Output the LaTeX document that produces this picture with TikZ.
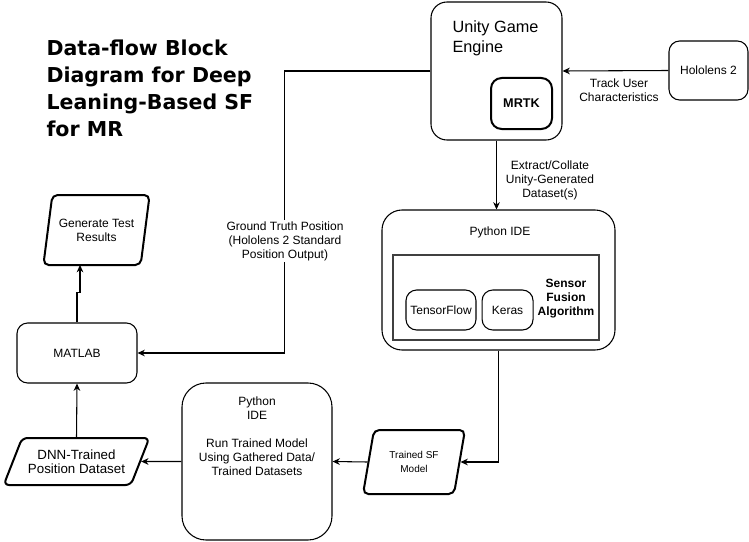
\documentclass[tikz,border=0pt]{standalone}
\usepackage{fontspec}
\setmainfont{Liberation Sans}
\newfontfamily\titlefont{DejaVu Sans}
\usepackage{tikz}
\usetikzlibrary{arrows.meta, shapes.geometric, positioning}

\begin{document}
\begin{tikzpicture}[x=0.75pt, y=-0.75pt, line width=0.8pt, >={Stealth[length=5.5pt, width=5pt, inset=1.8pt]},
    block/.style={rectangle, rounded corners=8pt, draw, align=center, inner sep=2pt, font=\fontsize{9}{10.5}\selectfont},
    data/.style={trapezium, trapezium stretches=true, rounded corners=4pt, draw, line width=1.5pt, align=center, inner sep=1pt, font=\fontsize{9}{10.5}\selectfont},
    lbl/.style={align=center, inner sep=1pt, font=\fontsize{9}{10.5}\selectfont}]

    \useasboundingbox (0,0) rectangle (749,542);

    % title
    \node[anchor=north west, align=left, inner sep=0pt, font=\titlefont\fontsize{15.4}{20.25}\selectfont\bfseries] (title) at (46,39) {Data-flow Block\\Diagram for Deep\\Leaning-Based SF\\for MR};

    % top right
    \node[block, rounded corners=12pt, minimum width=98.25pt, minimum height=103.5pt] (unity) at (496.5,71) {};
    \node[anchor=north west, align=left, inner sep=0pt, font=\fontsize{12.2}{15}\selectfont] (unitytxt) at (452,20) {Unity Game\\Engine};
    \node[block, line width=1.5pt, minimum width=45.75pt, minimum height=38.25pt, font=\fontsize{9.5}{11}\selectfont\bfseries] (mrtk) at (521.5,103.5) {MRTK};
    \node[block, minimum width=59.25pt, minimum height=44.25pt] (holo) at (708.5,70.5) {Hololens 2};

    % python / sensor fusion
    \node[block, rounded corners=15pt, minimum width=174.75pt, minimum height=105pt] (pyide) at (498.5,280) {};
    \node[lbl] (pyidetxt) at (500,232) {Python IDE};
    \node[rectangle, draw=black!75, line width=1.1pt, minimum width=154.5pt, minimum height=63.75pt] (sfa) at (496,297.5) {};
    \node[block, minimum width=52.5pt, minimum height=30pt] (tf) at (441,310) {TensorFlow};
    \node[block, right=3.75pt of tf, minimum width=38.25pt, minimum height=30pt] (keras) {Keras};
    \node[lbl, font=\fontsize{9}{10.5}\selectfont\bfseries] (sfatxt) at (566,299) {Sensor\\Fusion\\Algorithm};

    % bottom row
    \node[data, trapezium left angle=73.5, trapezium right angle=106.5, minimum width=76.5pt, minimum height=48pt, font=\fontsize{7.5}{10.5}\selectfont] (tsf) at (414,462) {Trained SF\\Model};
    \node[block, rounded corners=18pt, minimum width=112.5pt, minimum height=117.75pt] (pyide2) at (257,461.5) {};
    \node[lbl, below=9pt of pyide2.north] (pyide2txt) {Python\\IDE\\[10.5pt]Run Trained Model\\Using Gathered Data/\\Trained Datasets};
    \node[data, trapezium left angle=57.4, trapezium right angle=122.6, minimum width=110.25pt, minimum height=35.25pt, font=\fontsize{10}{10.5}\selectfont] (dnn) at (76.5,461.5) {DNN-Trained\\Position Dataset};
    \node[block, minimum width=90pt, minimum height=45pt] (matlab) at (77,353) {MATLAB};
    \node[data, trapezium left angle=72.5, trapezium right angle=107.5, minimum width=80.25pt, minimum height=52.5pt] (gen) at (96.5,230) {Generate Test\\Results};
    \coordinate (genin) at (80,265);

    % connectors
    \draw[->] (holo.west) -- (unity.east);
    \node[lbl] (tracktxt) at (619,90) {Track User\\Characteristics};
    \draw[->] (unity.south) -- (unity.south |- pyide.north);
    \node[lbl] (extracttxt) at (550,180) {Extract/Collate\\Unity-Generated\\Dataset(s)};
    \draw[->] (unity.west) -- ++(-146,0) |- (matlab.east);
    \node[lbl, fill=white] (gttxt) at (285,241) {Ground Truth Position\\(Hololens 2 Standard\\Position Output)};
    \draw[->] (pyide.south) |- (tsf.east);
    \draw[->] (tsf.west) -- (pyide2.east);
    \draw[->] (pyide2.west) -- (dnn.east);
    \draw[->] (dnn.north) -- (matlab.south);
    \draw[->] (matlab.north) -- ++(0,-30) -| (genin);

\end{tikzpicture}
\end{document}
